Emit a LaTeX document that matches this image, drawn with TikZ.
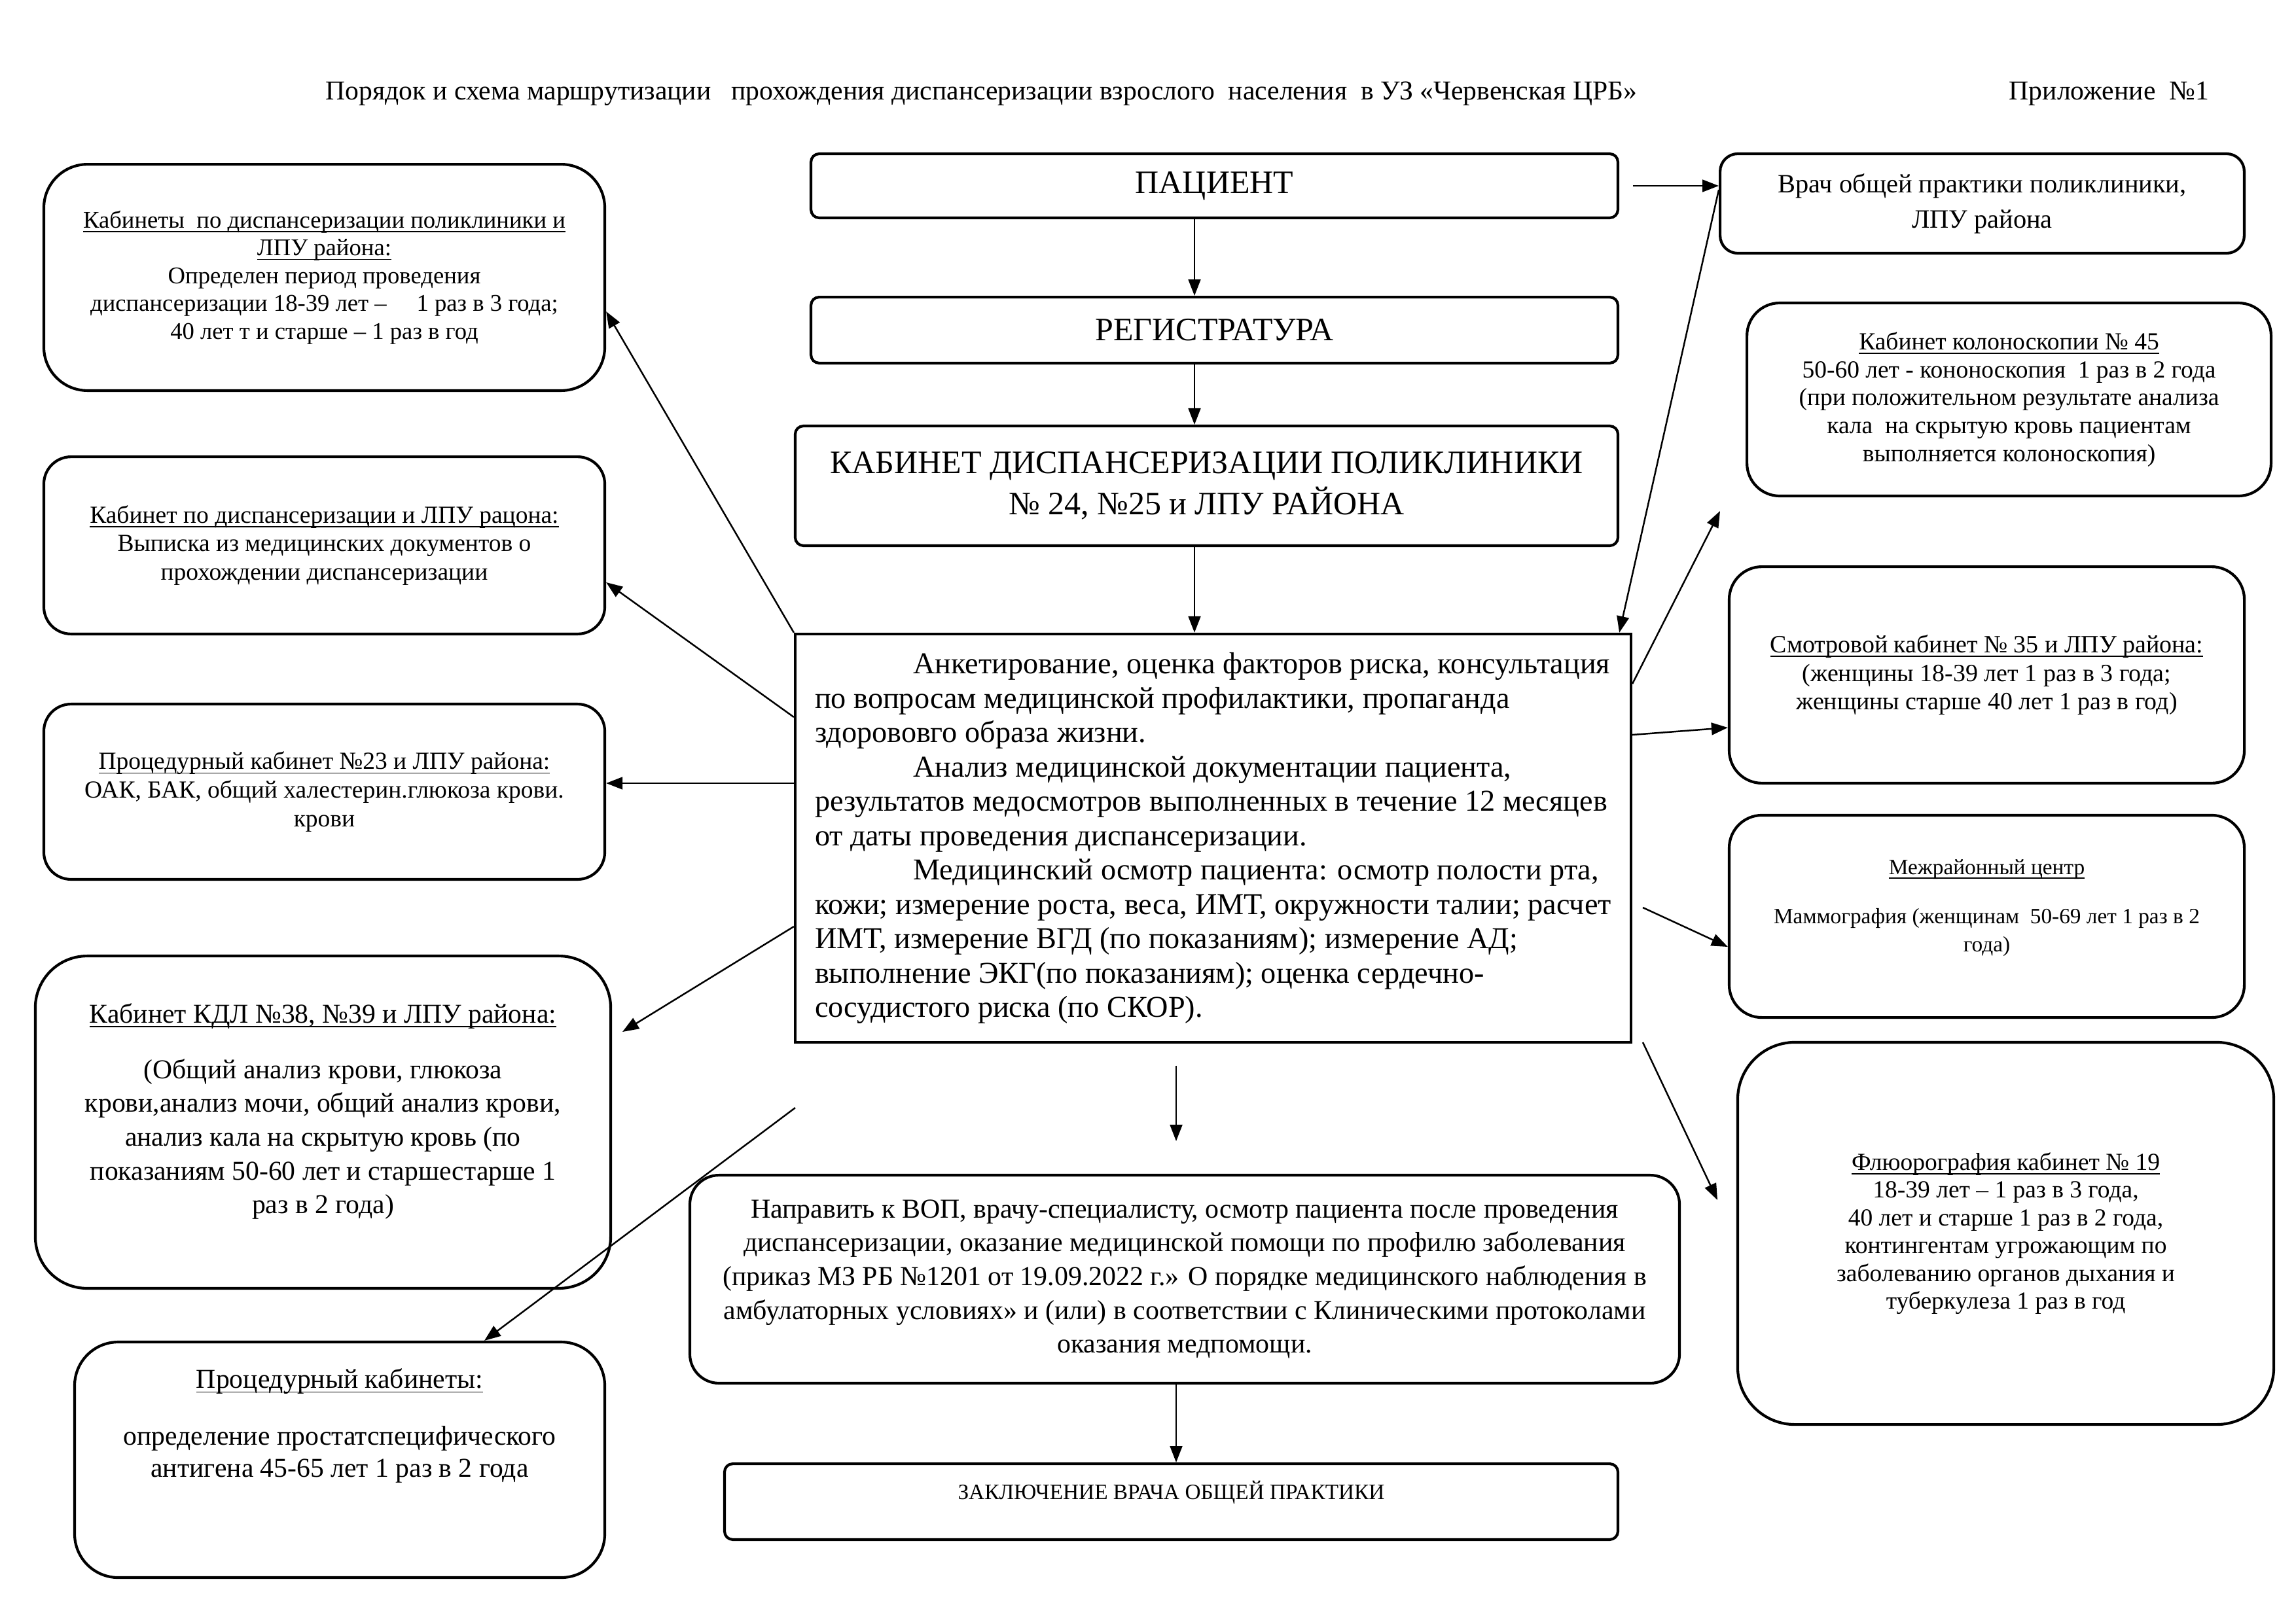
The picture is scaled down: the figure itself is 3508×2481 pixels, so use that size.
\documentclass[tikz,border=0pt]{standalone}
\usepackage{fontspec}
\setmainfont{Liberation Serif}
\usetikzlibrary{arrows.meta}

\newcommand{\fsz}[2]{\fontsize{#1}{#2}\selectfont}
\newcommand{\ulin}[1]{\underline{\raisebox{0pt}[\height][0pt]{#1}}}

\tikzset{
  rbox/.style={draw, line width=1pt, rounded corners=#1, align=center, inner sep=0pt},
  arr/.style={line width=0.6pt, -{Triangle[length=6pt,width=4.5pt]}},
}

\begin{document}
\begin{tikzpicture}[x=0.24pt,y=0.24pt,yscale=-1]
	\path[use as bounding box, fill=white] (0,0) rectangle (3508,2481);
	
	% Text Node
	\node[anchor=west, inner sep=0pt, font=\fsz{10}{12}] (title) at (497,143) {Порядок и схема маршрутизации\ \ \ прохождения диспансеризации взрослого\ \ населения\ \ в УЗ «Червенская ЦРБ»};
	% Text Node
	\node[anchor=west, inner sep=0pt, font=\fsz{10}{12}] (appx) at (3069,143) {Приложение\ \ №1};
	
	%Shape: center column
	\node[rbox=3pt, minimum width=295.9pt, minimum height=23.5pt, font=\fsz{12}{14}] (pac) at (1855.5,284) {ПАЦИЕНТ};
	\node[rbox=3pt, minimum width=295.9pt, minimum height=24.2pt, font=\fsz{12}{14}] (reg) at (1855.5,504.5) {РЕГИСТРАТУРА};
	\node[rbox=3pt, minimum width=301.7pt, minimum height=43.9pt, font=\fsz{12}{15}] (kab) at (1843.5,742.5) {КАБИНЕТ ДИСПАНСЕРИЗАЦИИ ПОЛИКЛИНИКИ\\№ 24, №25 и ЛПУ РАЙОНА};
	\node[draw, line width=1pt, inner sep=0pt, minimum width=306.5pt, minimum height=149.8pt, align=left, font=\fsz{11.1}{12.6}] (main) at (1853.5,1281) {\hspace*{36pt}Анкетирование, оценка факторов риска, консультация\\по вопросам медицинской профилактики, пропаганда\\здорововго образа жизни.\\\hspace*{36pt}Анализ медицинской документации пациента,\\результатов медосмотров выполненных в течение 12 месяцев\\от даты проведения диспансеризации.\\\hspace*{36pt}Медицинский осмотр пациента: осмотр полости рта,\\кожи; измерение роста, веса, ИМТ, окружности талии; расчет\\ИМТ, измерение ВГД (по показаниям); измерение АД;\\выполнение ЭКГ(по показаниям); оценка сердечно-\\сосудистого риска (по СКОР).};
	\node[rbox=10.7pt, minimum width=362.9pt, minimum height=76.3pt, font=\fsz{10.05}{12.4}] (napr) at (1810,1955) {Направить к ВОП, врачу-специалисту, осмотр пациента после проведения\\диспансеризации, оказание медицинской помощи по профилю заболевания\\(приказ МЗ РБ №1201 от 19.09.2022 г.» О порядке медицинского наблюдения в\\амбулаторных условиях» и (или) в соответствии с Клиническими протоколами\\оказания медпомощи.};
	\node[rbox=3pt, minimum width=327.6pt, minimum height=27.8pt, text depth=8.5pt, font=\fsz{8}{10}] (zakl) at (1789.5,2295) {ЗАКЛЮЧЕНИЕ ВРАЧА ОБЩЕЙ ПРАКТИКИ};
	
	%Shape: left column
	\node[rbox=16pt, minimum width=205.7pt, minimum height=83pt, font=\fsz{8.8}{10.2}] (l1) at (495.5,424) {\ulin{Кабинеты\ \ по диспансеризации поликлиники и}\\\ulin{ЛПУ района:}\\Определен период проведения\\диспансеризации 18-39 лет –\ \ \ \ \ 1 раз в 3 года;\\40 лет т и старше – 1 раз в год};
	\node[rbox=10pt, minimum width=205.7pt, minimum height=65pt, font=\fsz{9}{10.5}] (l2) at (495.5,833.5) {\ulin{Кабинет по диспансеризации и ЛПУ рацона:}\\Выписка из медицинских документов о\\прохождении диспансеризации};
	\node[rbox=10pt, minimum width=205.7pt, minimum height=64.3pt, font=\fsz{9}{10.5}] (l3) at (495.5,1210) {\ulin{Процедурный кабинет №23 и ЛПУ района:}\\ОАК, БАК, общий халестерин.глюкоза крови.\\крови};
	\node[rbox=19pt, minimum width=211pt, minimum height=121.9pt, text depth=10pt, font=\fsz{10}{12.4}] (l4) at (493.5,1715) {\ulin{Кабинет КДЛ №38, №39 и ЛПУ района:}\\[8pt](Общий анализ крови, глюкоза\\крови,анализ мочи, общий анализ крови,\\анализ кала на скрытую кровь (по\\показаниям 50-60 лет и старшестарше 1\\раз в 2 года)};
	\node[rbox=16pt, minimum width=194.4pt, minimum height=86.4pt, text depth=27pt, font=\fsz{10}{11.8}] (l5) at (519,2231) {\ulin{Процедурный кабинеты:}\\[9pt]определение простатспецифического\\антигена 45-65 лет 1 раз в 2 года};
	
	%Shape: right column
	\node[rbox=6.5pt, minimum width=192.2pt, minimum height=36.5pt, font=\fsz{9.7}{12.9}] (r1) at (3028.5,311) {Врач общей практики поликлиники,\\ЛПУ района};
	\node[rbox=12pt, minimum width=192.2pt, minimum height=70.8pt, font=\fsz{9}{10.3}] (r2) at (3069.5,610.5) {\ulin{Кабинет колоноскопии № 45}\\50-60 лет - кононоскопия\ \ 1 раз в 2 года\\(при положительном результате анализа\\кала\ \ на скрытую кровь пациентам\\выполняется колоноскопия)};
	\node[rbox=12pt, minimum width=188.9pt, minimum height=79.4pt, font=\fsz{9.1}{10.5}] (r3) at (3035.5,1031.5) {\ulin{Смотровой кабинет № 35 и ЛПУ района:}\\(женщины 18-39 лет 1 раз в 3 года;\\женщины старше 40 лет 1 раз в год)};
	\node[rbox=12pt, minimum width=188.9pt, minimum height=74.2pt, text depth=8pt, font=\fsz{8}{10.2}] (r4) at (3035.5,1400.5) {\ulin{Межрайонный центр}\\[8pt]Маммография (женщинам\ \ 50-69 лет 1 раз в 2\\года)};
	\node[rbox=21pt, minimum width=196.6pt, minimum height=140.2pt, font=\fsz{9}{10.2}] (r5) at (3064.5,1885) {\ulin{Флюорография кабинет № 19}\\18-39 лет – 1 раз в 3 года,\\40 лет и старше 1 раз в 2 года,\\контингентам угрожающим по\\заболеванию органов дыхания и\\туберкулеза 1 раз в год};
	
	%free ends
	\coordinate (axis) at (1825,0);
	\coordinate (axisb) at (1797,0);
	\coordinate (r2in) at (2628,781);
	\coordinate (r4out) at (2510,1387);
	\coordinate (r5out) at (2510,1593);
	\coordinate (r5in) at (2624,1834);
	\coordinate (l4in) at (951,1577);
	\coordinate (l5out) at (1215,1693);
	
	%Straight Lines
	\draw[arr] (pac.south -| axis) -- (reg.north -| axis);
	\draw[arr] (reg.south -| axis) -- (kab.north -| axis);
	\draw[arr] (kab.south -| axis) -- (main.north -| axis);
	\draw[arr, shorten <=8pt, shorten >=12pt] (main.south -| axisb) -- (napr.north -| axisb);
	\draw[arr] (napr.south -| axisb) -- (zakl.north -| axisb);
	\draw[arr, shorten <=5pt] (pac.east) -- (pac.east -| r1.west);
	\draw[arr] ([yshift=-5pt]r1.west) -- ([xshift=-4.8pt]main.north east);
	\draw[arr] (main.east |- 0,1045) -- (r2in);
	\draw[arr] (main.east |- 0,1123) -- (r3.west |- 0,1112);
	\draw[arr] (r4out) -- (r4.west |- 0,1447);
	\draw[arr] (r5out) -- (r5in);
	\draw[arr] (main.north west) -- (l1.east |- 0,476);
	\draw[arr] (main.west |- 0,1096) -- (l2.east |- 0,890);
	\draw[arr] (main.west |- 0,1197) -- (l3.east |- 0,1197);
	\draw[arr] (main.west |- 0,1416) -- (l4in);
	\draw[arr] (l5out) -- (l5.north -| 740,0);
	
\end{tikzpicture}
\end{document}
